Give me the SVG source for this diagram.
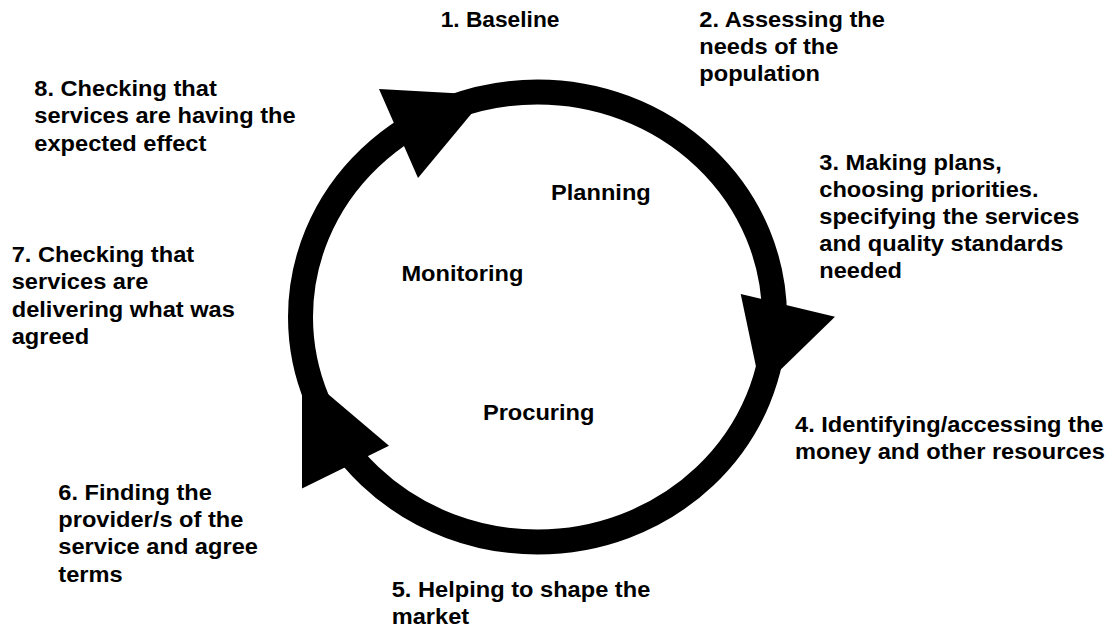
<svg xmlns="http://www.w3.org/2000/svg" width="1112" height="630" viewBox="0 0 1112 630">
  <style>
    .lbl { font-family: "Liberation Sans", Arial, sans-serif; font-weight: bold; font-size: 22.4px; fill: #000; }
    .ring { fill: none; stroke: #000; stroke-width: 25; }
    .head { fill: #000; stroke: none; }
  </style>
  <rect x="0" y="0" width="1112" height="630" fill="#fff"/>
  <g id="connectors">
    <ellipse class="ring" cx="537.5" cy="317" rx="237" ry="225"/>
    <polygon class="head" points="379,89 418,178 487,95"/>
    <polygon class="head" points="740.7,294 835,316.7 760.7,389"/>
    <polygon class="head" points="302,488.6 389,445.7 302,372"/>
  </g>
  <g id="node-1">
    <text class="lbl" transform="translate(440.7,26.7) scale(1.015,1)"><tspan x="0" y="0">1. Baseline</tspan></text>
  </g>
  <g id="node-2">
    <text class="lbl" transform="translate(699.3,26.7) scale(1.055,1)"><tspan x="0" y="0">2. Assessing the</tspan><tspan x="0" y="27.1">needs of the</tspan><tspan x="0" y="54.1">population</tspan></text>
  </g>
  <g id="node-3">
    <text class="lbl" transform="translate(819.3,170) scale(1.055,1)"><tspan x="0" y="0">3. Making plans,</tspan><tspan x="0" y="27.2">choosing priorities.</tspan><tspan x="0" y="54.4">specifying the services</tspan><tspan x="0" y="81.5">and quality standards</tspan><tspan x="0" y="108.5">needed</tspan></text>
  </g>
  <g id="node-4">
    <text class="lbl" transform="translate(795,431.7) scale(1.055,1)"><tspan x="0" y="0">4. Identifying/accessing the</tspan><tspan x="0" y="27.6">money and other resources</tspan></text>
  </g>
  <g id="node-5">
    <text class="lbl" transform="translate(391.7,597.3) scale(1.055,1)"><tspan x="0" y="0">5. Helping to shape the</tspan><tspan x="0" y="27">market</tspan></text>
  </g>
  <g id="node-6">
    <text class="lbl" transform="translate(58.3,500) scale(1.055,1)"><tspan x="0" y="0">6. Finding the</tspan><tspan x="0" y="27.3">provider/s of the</tspan><tspan x="0" y="54.3">service and agree</tspan><tspan x="0" y="81.7">terms</tspan></text>
  </g>
  <g id="node-7">
    <text class="lbl" transform="translate(11.7,261.7) scale(1.055,1)"><tspan x="0" y="0">7. Checking that</tspan><tspan x="0" y="27.6">services are</tspan><tspan x="0" y="55.6">delivering what was</tspan><tspan x="0" y="82.3">agreed</tspan></text>
  </g>
  <g id="node-8">
    <text class="lbl" transform="translate(34.3,96) scale(1.055,1)"><tspan x="0" y="0">8. Checking that</tspan><tspan x="0" y="27.5">services are having the</tspan><tspan x="0" y="55">expected effect</tspan></text>
  </g>
  <g id="node-planning">
    <text class="lbl" transform="translate(551,200.4) scale(1.055,1)"><tspan x="0" y="0">Planning</tspan></text>
  </g>
  <g id="node-monitoring">
    <text class="lbl" transform="translate(401.4,281.4) scale(1.055,1)"><tspan x="0" y="0">Monitoring</tspan></text>
  </g>
  <g id="node-procuring">
    <text class="lbl" transform="translate(482.9,420) scale(1.055,1)"><tspan x="0" y="0">Procuring</tspan></text>
  </g>
</svg>
